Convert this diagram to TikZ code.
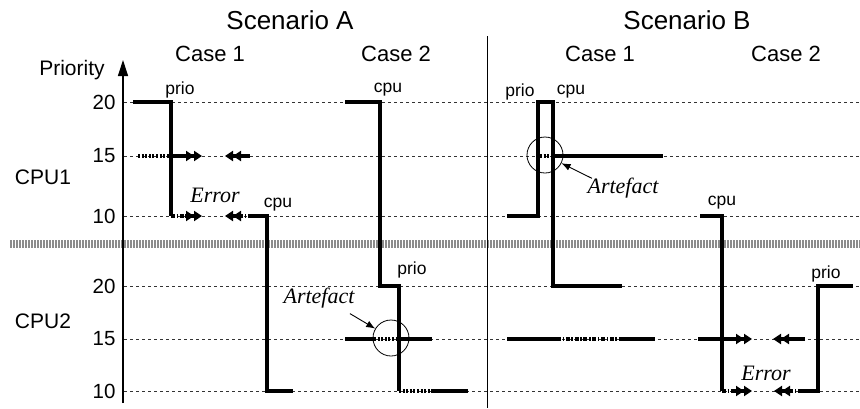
\documentclass[tikz,border=0pt]{standalone}
\usepackage{fontspec}
\setmainfont{Liberation Sans}
\newfontfamily\serifit{Liberation Serif}[ItalicFont={* Italic}]
\usetikzlibrary{arrows.meta}
\tikzset{
  grid/.style={line width=0.9pt, black!80, dash pattern=on 3pt off 3pt},
  trace/.style={line width=4pt, line join=miter},
  dotline/.style={line width=4pt, dash pattern=on 2pt off 1.6pt},
  dashdot/.style={line width=3.5pt, dash pattern=on 4pt off 1.6pt on 1.6pt off 1.6pt},
  dbl/.style={-{Triangle[length=8pt,width=10pt]Triangle[length=8pt,width=10pt]}},
  big/.style={font=\fontsize{26}{30}\selectfont},
  mid/.style={font=\fontsize{22}{26}\selectfont},
  lab/.style={font=\fontsize{21}{24}\selectfont},
  num/.style={font=\fontsize{20.5}{24}\selectfont, anchor=east},
  small/.style={font=\fontsize{17.5}{20}\selectfont},
  it/.style={font=\serifit\itshape\fontsize{22}{26}\selectfont},
  ring/.style={circle, draw, line width=0.8pt, minimum size=36pt, inner sep=0pt}
}
\begin{document}
\begin{tikzpicture}[x=1pt, y=-1pt]
\useasboundingbox[fill=white] (0,0) rectangle (860,408);
% headings
\node[big] (scA) at (290,20) {Scenario A};
\node[big] (scB) at (687,20) {Scenario B};
\node[mid] (a1) at (210,54) {Case 1};
\node[mid] (a2) at (396,54) {Case 2};
\node[mid] (b1) at (600,54) {Case 1};
\node[mid] (b2) at (786,54) {Case 2};
\node[lab] (prio) at (72,70) {Priority};
\node[lab] (cpu1) at (43,177) {CPU1};
\node[lab] (cpu2) at (43,321) {CPU2};
% numbers
\node[num] (n1) at (119,102) {20};
\node[num] (n2) at (119,156) {15};
\node[num] (n3) at (119,216) {10};
\node[num] (n4) at (119,286) {20};
\node[num] (n5) at (119,339) {15};
\node[num] (n6) at (119,391) {10};
% grid
\foreach \yy in {102,156,216,286,339,391}
  \draw[grid] (124,\yy) -- (860,\yy);
% gray band
\draw[line width=8pt, black!45, dash pattern=on 1.6pt off 1.4pt] (10,244) -- (860,244);
% axis and divider
\coordinate (axb) at (123,403);
\coordinate (axt) at (123,60);
\draw[line width=1.2pt, -{Triangle[length=16pt,width=10pt]}] (axb) -- (axt);
\coordinate (dvt) at (487,36);
\coordinate (dvb) at (487,408);
\draw[line width=0.9pt] (dvt) -- (dvb);

% ---------- Scenario A, Case 1
\draw[trace] (133,102) -- (171,102) -- (171,216);
\draw[dotline] (138,156) -- (169,156);
\draw[trace,dbl] (169,156) -- (202,156);
\draw[trace,dbl] (250,156) -- (225,156);
\draw[dashdot] (171,216) -- (187,216);
\draw[trace,dbl] (185,216) -- (202,216);
\draw[dashdot] (252,216) -- (240,216);
\draw[trace,dbl] (242,216) -- (225,216);
\draw[trace] (251,216) -- (267,216) -- (267,391) -- (293,391);
\node[small] (pA1) at (180,90) {prio};
\node[small] (cA1) at (278,205) {cpu};
\node[it] (eA) at (215,195) {Error};

% ---------- Scenario A, Case 2
\draw[trace] (345,102) -- (380,102) -- (380,286) -- (399,286) -- (399,391);
\draw[dotline] (399,391) -- (433,391);
\draw[trace] (433,391) -- (468,391);
\draw[trace] (345,339) -- (374,339);
\draw[dotline] (374,339) -- (398,339);
\draw[trace] (398,339) -- (432,339);
\node[small] (cA2) at (388,90) {cpu};
\node[small] (pA2) at (412,270) {prio};
\node[ring] (rA) at (391,338) {};
\node[it] (tA) at (319,298) {Artefact};
\draw[line width=0.9pt, -{Latex[length=9pt,width=7pt]}] (tA.south east) ++(-8,2) coordinate (tAs) -- (rA);

% ---------- Scenario B, Case 1
\draw[trace] (507,216) -- (538,216) -- (538,102) -- (553,102) -- (553,286) -- (622,286);
\draw[dotline] (540,156) -- (553,156);
\draw[trace] (553,156) -- (663,156);
\draw[trace] (507,339) -- (557,339);
\draw[dashdot] (557,339) -- (622,339);
\draw[trace] (622,339) -- (655,339);
\node[small] (pB1) at (520,92) {prio};
\node[small] (cB1) at (571,92) {cpu};
\node[ring] (rB) at (545,155) {};
\node[it] (tB) at (623,188) {Artefact};
\draw[line width=0.9pt, -{Latex[length=9pt,width=7pt]}] (tB.north west) ++(8,4) coordinate (tBs) -- (rB);

% ---------- Scenario B, Case 2
\draw[trace] (700,216) -- (722,216) -- (722,391);
\draw[dashdot] (722,391) -- (737,391);
\draw[trace,dbl] (735,391) -- (752,391);
\draw[trace,dbl] (698,339) -- (752,339);
\draw[trace,dbl] (805,339) -- (773,339);
\draw[dashdot] (802,391) -- (790,391);
\draw[trace,dbl] (792,391) -- (774,391);
\draw[trace] (801,391) -- (818,391) -- (818,286) -- (853,286);
\node[small] (cB2) at (722,203) {cpu};
\node[small] (pB2) at (826,274) {prio};
\node[it] (eB) at (766,373) {Error};
\end{tikzpicture}
\end{document}
